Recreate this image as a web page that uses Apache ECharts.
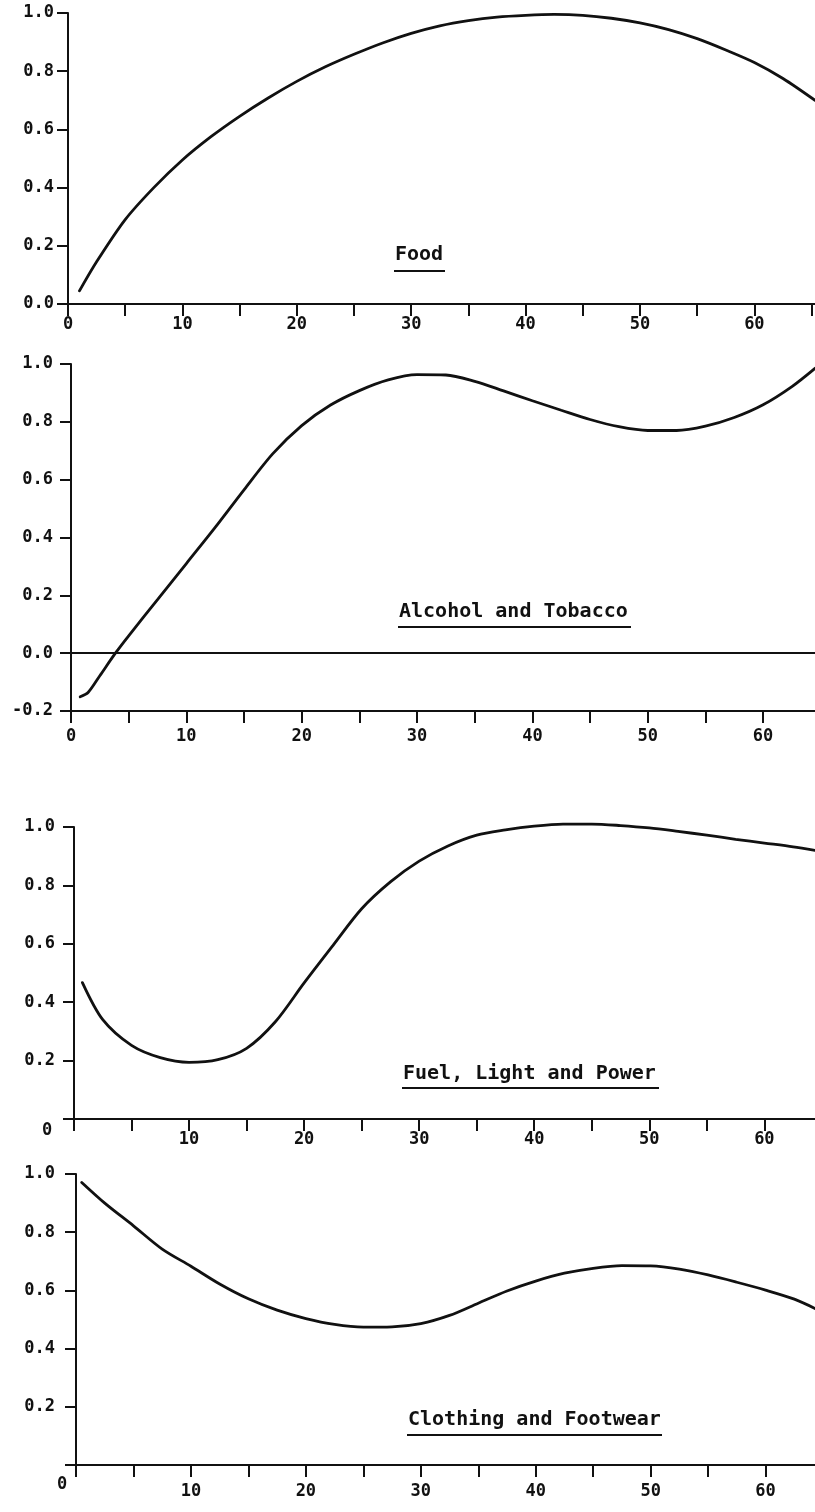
<!DOCTYPE html>
<html>
<head>
<meta charset="utf-8">
<script src="https://cdn.jsdelivr.net/npm/echarts@6/dist/echarts.min.js"></script>
<style>html,body{margin:0;padding:0;background:#fff;}#c{width:815px;height:1512px;}</style>
</head>
<body>
<div id="c"></div>
<script>
// ---- data ----
const foodX = [1, 2.5, 5, 7.5, 10, 12.5, 15, 17.5, 20, 22.5, 25, 27.5, 30, 32.5, 35, 37.5, 40, 42.5, 45, 47.5, 50, 52.5, 55, 57.5, 60, 62.5, 65.3];
const foodY = [0.045, 0.145, 0.29, 0.40, 0.495, 0.575, 0.645, 0.708, 0.765, 0.815, 0.858, 0.897, 0.93, 0.956, 0.974, 0.986, 0.992, 0.995, 0.992, 0.982, 0.966, 0.943, 0.912, 0.873, 0.83, 0.775, 0.70];

const alcX = [0.8, 1.5, 2.5, 3.85, 5, 7.5, 10, 12.5, 15, 17.5, 20, 22.5, 25, 27.5, 30, 32.5, 35, 37.5, 40, 42.5, 45, 47.5, 50, 52.5, 55, 57.5, 60, 62.5, 64.5];
const alcY = [-0.151, -0.135, -0.078, 0.0, 0.06, 0.185, 0.31, 0.435, 0.565, 0.69, 0.787, 0.858, 0.908, 0.945, 0.963, 0.962, 0.94, 0.907, 0.873, 0.84, 0.808, 0.783, 0.77, 0.77, 0.785, 0.815, 0.859, 0.922, 0.985];

const fuelX = [0.73, 2.5, 5, 7.5, 10, 12.5, 15, 17.5, 20, 22.5, 25, 27.5, 30, 32.5, 35, 37.5, 40, 42.5, 45, 47.5, 50, 52.5, 55, 57.5, 60, 62.5, 64.4];
const fuelY = [0.467, 0.34, 0.252, 0.21, 0.194, 0.203, 0.242, 0.333, 0.466, 0.594, 0.72, 0.812, 0.883, 0.935, 0.972, 0.99, 1.003, 1.01, 1.01, 1.005, 0.997, 0.985, 0.972, 0.958, 0.945, 0.932, 0.92];

const clothX = [0.5, 2.5, 5, 7.5, 10, 12.5, 15, 17.5, 20, 22.5, 25, 27.5, 30, 32.5, 35, 37.5, 40, 42.5, 45, 47.5, 50, 52.5, 55, 57.5, 60, 62.5, 64.3];
const clothY = [0.971, 0.90, 0.822, 0.742, 0.683, 0.622, 0.571, 0.532, 0.503, 0.483, 0.474, 0.475, 0.486, 0.514, 0.556, 0.598, 0.632, 0.659, 0.676, 0.685, 0.684, 0.673, 0.653, 0.628, 0.601, 0.57, 0.538];

const panelTitles = ['Food', 'Alcohol and Tobacco', 'Fuel, Light and Power', 'Clothing and Footwear'];
const xMax = [65.3, 64.5, 64.4, 64.3];
const yMin = [0, -0.2, 0, 0];
const yMax = [1.0, 1.0, 1.0, 1.0];

// ---- chart ----
const INK = '#111';
const FONT = '"DejaVu Sans Mono", "Liberation Mono", monospace';
const pair = (xs, ys) => xs.map((x, i) => [x, ys[i]]);
const seriesData = [pair(foodX, foodY), pair(alcX, alcY), pair(fuelX, fuelY), pair(clothX, clothY)];

const grids = [
  {left: 68, top: 13, right: 0, height: 291},
  {left: 71, top: 364, right: 0, height: 347},
  {left: 74, top: 827, right: 0, height: 292},
  {left: 76, top: 1174, right: 0, height: 291}
].map(g => Object.assign({outerBoundsMode: 'none', containLabel: false, show: false}, g));

const labelBase = {fontFamily: FONT, fontWeight: 'bold', fontSize: 17, color: INK};
const xLabelCfg = [
  {margin: 12, formatter: v => (v % 10 === 0 ? String(v) : '')},
  {margin: 17, formatter: v => (v % 10 === 0 ? String(v) : '')},
  {margin: 3, formatter: v => (v === 0 ? '{o|0}' : (v % 10 === 0 ? '{n|' + v + '}' : '')),
   rich: {o: Object.assign({padding: [0, 54, 0, 0]}, labelBase), n: Object.assign({padding: [9, 0, 0, 0]}, labelBase)}},
  {margin: 11, formatter: v => (v === 0 ? '{o|0}' : (v % 10 === 0 ? '{n|' + v + '}' : '')),
   rich: {o: Object.assign({padding: [0, 28, 0, 0]}, labelBase), n: Object.assign({padding: [7, 0, 0, 0]}, labelBase)}}
];
const yMargins = [14, 18, 19, 21];

const xAxes = grids.map((g, i) => ({
  type: 'value', gridIndex: i, min: 0, max: xMax[i], interval: 5,
  axisLine: {show: true, onZero: false, lineStyle: {color: INK, width: 2}},
  axisTick: {show: true, length: 12, lineStyle: {color: INK, width: 2}},
  splitLine: {show: false},
  axisLabel: Object.assign({}, labelBase, xLabelCfg[i], {showMaxLabel: false})
}));

const yAxes = grids.map((g, i) => ({
  type: 'value', gridIndex: i, min: yMin[i], max: yMax[i], interval: 0.2,
  axisLine: {show: true, onZero: false, lineStyle: {color: INK, width: 2}},
  axisTick: {show: true, length: 11, lineStyle: {color: INK, width: 2}},
  splitLine: {show: false},
  axisLabel: Object.assign({}, labelBase, {
    margin: yMargins[i],
    formatter: v => {
      const r = Math.round(v * 10) / 10;
      if ((i === 2 || i === 3) && r === 0) return '';
      return r.toFixed(1);
    }
  })
}));

const series = seriesData.map((d, i) => {
  const s = {
    type: 'line', xAxisIndex: i, yAxisIndex: i, data: d,
    smooth: 0.3, showSymbol: false, clip: false, silent: true,
    lineStyle: {color: INK, width: 2.8, cap: 'round'}
  };
  if (i === 1) {
    s.markLine = {
      silent: true, symbol: ['none', 'none'], label: {show: false},
      lineStyle: {color: INK, width: 2, type: 'solid'},
      data: [{yAxis: 0}]
    };
  }
  return s;
});

// panel captions (underlined text)
const captionPos = [
  {x: 395, y: 245, u: 271, w: 51},
  {x: 399, y: 602, u: 627, w: 233},
  {x: 403, y: 1064, u: 1088, w: 257},
  {x: 408, y: 1410, u: 1435, w: 255}
];
const graphic = [];
panelTitles.forEach((t, i) => {
  const p = captionPos[i];
  graphic.push({type: 'text', x: p.x, y: p.y, silent: true,
    style: {text: t, font: 'bold 20px ' + FONT, fill: INK, verticalAlign: 'top', align: 'left'}});
  graphic.push({type: 'line', silent: true,
    shape: {x1: p.x - 1, y1: p.u, x2: p.x - 1 + p.w, y2: p.u},
    style: {stroke: INK, lineWidth: 2}});
});

const chart = echarts.init(document.getElementById('c'), null, {renderer: 'canvas'});
chart.setOption({
  animation: false,
  backgroundColor: '#fff',
  grid: grids,
  xAxis: xAxes,
  yAxis: yAxes,
  series: series,
  graphic: graphic
});
</script>
</body>
</html>
